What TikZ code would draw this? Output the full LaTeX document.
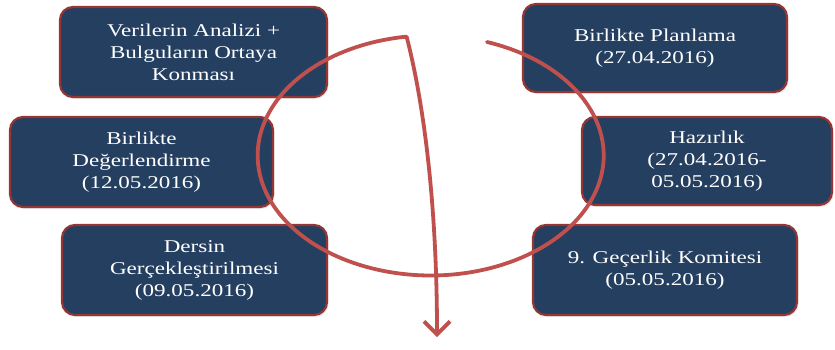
\documentclass[tikz,border=0pt]{standalone}
\usepackage{fontspec}
\setmainfont{Liberation Serif}[FakeStretch=1.28]
\usetikzlibrary{arrows.meta,shadows}
\definecolor{boxfill}{HTML}{253F60}
\definecolor{boxedge}{HTML}{943634}
\definecolor{cyclered}{HTML}{C0504D}
\tikzset{
  stagebox/.style={draw=boxedge, line width=2.2pt, fill=boxfill,
    rounded corners=13pt, text=white, align=center, inner sep=0pt,
    font=\fontsize{18}{22}\selectfont,
    drop shadow={opacity=0.18, shadow xshift=1.5pt, shadow yshift=-2pt}},
  cycle/.style={draw=cyclered, line width=3.8pt, line cap=round, line join=round}
}
\begin{document}
\begin{tikzpicture}[x=1pt,y=1pt]
  \useasboundingbox (0,0) rectangle (835,-349);

  % stages of the cycle
  \node[stagebox, minimum width=267pt, minimum height=90pt] (analiz) at (193.5,-52)
    {Verilerin Analizi +\\Bulguların Ortaya\\Konması};
  \node[stagebox, minimum width=263pt, minimum height=90pt] (degerlendirme) at (141.5,-162)
    {Birlikte\\Değerlendirme\\(12.05.2016)};
  \node[stagebox, minimum width=265pt, minimum height=90pt] (ders) at (194.5,-270)
    {Dersin\\Gerçekleştirilmesi\\(09.05.2016)};
  \node[stagebox, minimum width=264pt, minimum height=88pt] (planlama) at (655,-48)
    {Birlikte Planlama\\(27.04.2016)};
  \node[stagebox, minimum width=250pt, minimum height=88pt] (hazirlik) at (707,-161)
    {Hazırlık\\(27.04.2016-\\05.05.2016)};
  \node[stagebox, minimum width=264pt, minimum height=90pt] (komite) at (665,-270)
    {9. Geçerlik Komitesi\\(05.05.2016)};

  % cycle loop and the exit arrow
  \coordinate (loopstart) at (487,-42);
  \coordinate (exittip) at (437,-337);
  \draw[cycle, -{Straight Barb[length=13pt, width=26pt, line width=3.8pt]}]
    (loopstart) arc[start angle=71, end angle=-262, x radius=173, y radius=120]
    .. controls (423,-100) and (437,-200) .. (exittip);
\end{tikzpicture}
\end{document}
